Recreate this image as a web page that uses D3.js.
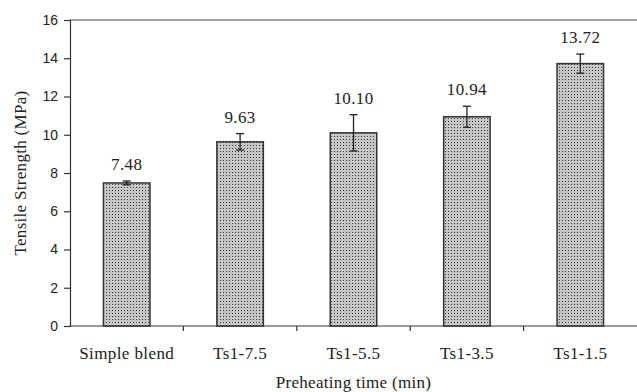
<!DOCTYPE html>
<html>
<head>
<meta charset="utf-8">
<script src="https://cdn.jsdelivr.net/npm/d3@7"></script>
<style>
  body { margin: 0; background: #fff; }
  text { font-family: "Liberation Serif", "DejaVu Serif", serif; fill: #222; }
</style>
</head>
<body>
<div id="chart"></div>
<script>
const categories = ['Simple blend', 'Ts1-7.5', 'Ts1-5.5', 'Ts1-3.5', 'Ts1-1.5'];
const strength = [7.48, 9.63, 10.10, 10.94, 13.72];
const errors = [0.1, 0.43, 0.95, 0.55, 0.5];
const labels = ['7.48', '9.63', '10.10', '10.94', '13.72'];
const yTicks = [0, 2, 4, 6, 8, 10, 12, 14, 16];

const width = 637, height = 392;
const margin = {top: 20, right: 0, bottom: 66, left: 70};

const svg = d3.select('#chart').append('svg')
  .attr('width', width).attr('height', height);

// stipple fill like the original
const defs = svg.append('defs');
const pat = defs.append('pattern')
  .attr('id', 'dots').attr('patternUnits', 'userSpaceOnUse')
  .attr('width', 3).attr('height', 3);
pat.append('rect').attr('width', 3).attr('height', 3).attr('fill', '#c6c6c6');
pat.append('rect').attr('x', 1).attr('y', 1).attr('width', 1).attr('height', 1).attr('fill', '#3a3a3a');

const x = d3.scaleBand()
  .domain(categories)
  .range([margin.left, width - margin.right])
  .paddingInner(0.59).paddingOuter(0.295);

const y = d3.scaleLinear().domain([0, 16]).range([height - margin.bottom, margin.top]);

const data = categories.map((c, i) => ({cat: c, v: strength[i], e: errors[i], label: labels[i]}));

// top frame line
svg.append('line')
  .attr('x1', margin.left).attr('x2', width)
  .attr('y1', y(16)).attr('y2', y(16))
  .attr('stroke', '#444').attr('stroke-width', 1.2);

// y axis
const yAxis = svg.append('g')
  .attr('transform', 'translate(' + margin.left + ',0)')
  .call(d3.axisLeft(y).tickValues(yTicks).tickSize(6).tickPadding(6));
yAxis.select('.domain').attr('stroke', '#333').attr('stroke-width', 1.2);
yAxis.selectAll('.tick line').attr('stroke', '#333').attr('stroke-width', 1.2);
yAxis.selectAll('text').style('font-size', '14px').attr('fill', '#333')
  .style('font-family', '"Liberation Sans", Arial, sans-serif');

// x axis: ticks between categories
const xAxis = svg.append('g')
  .attr('transform', 'translate(0,' + y(0) + ')');
xAxis.append('line')
  .attr('x1', margin.left).attr('x2', width)
  .attr('stroke', '#333').attr('stroke-width', 1.2);
const step = x.step();
xAxis.selectAll('.sep')
  .data(categories.slice(1))
  .enter().append('line')
  .attr('x1', d => x(d) - x.paddingInner() * step / 2)
  .attr('x2', d => x(d) - x.paddingInner() * step / 2)
  .attr('y1', 0).attr('y2', 5)
  .attr('stroke', '#333').attr('stroke-width', 1.2);
xAxis.selectAll('.cat')
  .data(categories)
  .enter().append('text')
  .attr('x', d => x(d) + x.bandwidth() / 2)
  .attr('y', 33)
  .attr('text-anchor', 'middle')
  .style('font-size', '17px')
  .style('letter-spacing', '0.4px')
  .text(d => d);

// bars
svg.selectAll('.bar')
  .data(data)
  .enter().append('rect')
  .attr('x', d => x(d.cat))
  .attr('y', d => y(d.v))
  .attr('width', x.bandwidth())
  .attr('height', d => y(0) - y(d.v))
  .attr('fill', 'url(#dots)')
  .attr('stroke', '#333').attr('stroke-width', 1.5);

// error bars
const eb = svg.selectAll('.err').data(data).enter().append('g');
eb.append('line')
  .attr('x1', d => x(d.cat) + x.bandwidth() / 2)
  .attr('x2', d => x(d.cat) + x.bandwidth() / 2)
  .attr('y1', d => y(d.v + d.e)).attr('y2', d => y(d.v - d.e))
  .attr('stroke', '#222').attr('stroke-width', 1.3);
eb.append('line')
  .attr('x1', d => x(d.cat) + x.bandwidth() / 2 - 4)
  .attr('x2', d => x(d.cat) + x.bandwidth() / 2 + 4)
  .attr('y1', d => y(d.v + d.e)).attr('y2', d => y(d.v + d.e))
  .attr('stroke', '#222').attr('stroke-width', 1.3);
eb.append('line')
  .attr('x1', d => x(d.cat) + x.bandwidth() / 2 - 4)
  .attr('x2', d => x(d.cat) + x.bandwidth() / 2 + 4)
  .attr('y1', d => y(d.v - d.e)).attr('y2', d => y(d.v - d.e))
  .attr('stroke', '#222').attr('stroke-width', 1.3);

// value labels
svg.selectAll('.val')
  .data(data)
  .enter().append('text')
  .attr('x', d => x(d.cat) + x.bandwidth() / 2)
  .attr('y', d => y(d.v + d.e) - 11)
  .attr('text-anchor', 'middle')
  .style('font-size', '17px')
  .style('letter-spacing', '0.4px')
  .text(d => d.label);

// axis titles
svg.append('text')
  .attr('transform', 'translate(26,' + (y(8)) + ') rotate(-90)')
  .attr('text-anchor', 'middle')
  .style('font-size', '17px')
  .style('letter-spacing', '0.3px')
  .text('Tensile Strength (MPa)');

svg.append('text')
  .attr('x', (margin.left + width) / 2)
  .attr('y', 388)
  .attr('text-anchor', 'middle')
  .style('font-size', '17px')
  .style('letter-spacing', '0.3px')
  .text('Preheating time (min)');
</script>
</body>
</html>
